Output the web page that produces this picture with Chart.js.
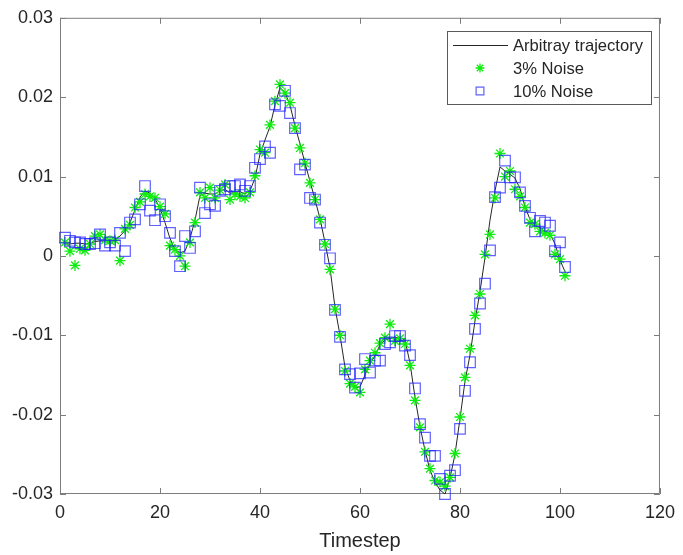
<!DOCTYPE html>
<html>
<head>
<meta charset="utf-8">
<script src="https://cdn.jsdelivr.net/npm/chart.js@4.4.1/dist/chart.umd.min.js"></script>
<style>
  html, body { margin: 0; padding: 0; background: #fff; }
  #wrap { width: 683px; height: 555px; }
</style>
</head>
<body>
<div id="wrap"><canvas id="traj-chart" width="683" height="555"></canvas></div>
<script>
// Timestep index (x values)
const timesteps = [
  1, 2, 3, 4, 5, 6, 7, 8, 9, 10, 11, 12, 13, 14, 15, 16, 17, 18, 19, 20,
  21, 22, 23, 24, 25, 26, 27, 28, 29, 30, 31, 32, 33, 34, 35, 36, 37, 38, 39, 40,
  41, 42, 43, 44, 45, 46, 47, 48, 49, 50, 51, 52, 53, 54, 55, 56, 57, 58, 59, 60,
  61, 62, 63, 64, 65, 66, 67, 68, 69, 70, 71, 72, 73, 74, 75, 76, 77, 78, 79, 80,
  81, 82, 83, 84, 85, 86, 87, 88, 89, 90, 91, 92, 93, 94, 95, 96, 97, 98, 99, 100,
  101
];

// Black line - the clean trajectory
const trajectory = [
  0.0015, 0.0015, 0.0016, 0.0016, 0.0015, 0.0016, 0.0018, 0.0019, 0.0018, 0.0017,
  0.0020, 0.0025, 0.0032, 0.0042, 0.0058, 0.0074, 0.0082, 0.0079, 0.0072, 0.0060,
  0.0042, 0.0022, 0.0008, 0.0004, 0.0006, 0.0022, 0.0045, 0.0076, 0.0079, 0.0078,
  0.0078, 0.0082, 0.0084, 0.0079, 0.0080, 0.0081, 0.0078, 0.0082, 0.0098, 0.0128,
  0.0146, 0.0163, 0.0190, 0.0212, 0.0206, 0.0190, 0.0164, 0.0141, 0.0117, 0.0094,
  0.0071, 0.0047, 0.0017, -0.0015, -0.0065, -0.0100, -0.0140, -0.0157, -0.0166, -0.0165,
  -0.0150, -0.0136, -0.0126, -0.0112, -0.0106, -0.0104, -0.0103, -0.0103, -0.0106, -0.0135,
  -0.0178, -0.0215, -0.0245, -0.0270, -0.0285, -0.0295, -0.0300, -0.0280, -0.0250, -0.0205,
  -0.0158, -0.0125, -0.0082, -0.0045, -0.0002, 0.0045, 0.0082, 0.0112, 0.0107, 0.0103,
  0.0098, 0.0085, 0.0062, 0.0046, 0.0039, 0.0035, 0.0031, 0.0028, 0.0015, -0.0005,
  -0.0020
];

// Green stars - 3% noise
const noise3 = [
  0.0017, 0.0006, -0.0012, 0.0009, 0.0007, 0.0015, 0.0025, 0.0027, 0.0020, 0.0019,
  0.0020, -0.0006, 0.0034, 0.0039, 0.0061, 0.0068, 0.0078, 0.0075, 0.0073, 0.0062,
  0.0053, 0.0013, 0.0008, 0.0000, -0.0013, 0.0017, 0.0042, 0.0080, 0.0073, 0.0086,
  0.0073, 0.0083, 0.0090, 0.0071, 0.0078, 0.0075, 0.0073, 0.0080, 0.0101, 0.0134,
  0.0130, 0.0165, 0.0195, 0.0216, 0.0205, 0.0193, 0.0161, 0.0136, 0.0117, 0.0092,
  0.0071, 0.0046, 0.0015, -0.0017, -0.0067, -0.0100, -0.0145, -0.0161, -0.0165, -0.0172,
  -0.0143, -0.0132, -0.0122, -0.0110, -0.0103, -0.0086, -0.0107, -0.0104, -0.0111, -0.0138,
  -0.0182, -0.0216, -0.0247, -0.0268, -0.0283, -0.0285, -0.0290, -0.0279, -0.0249, -0.0203,
  -0.0153, -0.0117, -0.0075, -0.0048, 0.0002, 0.0027, 0.0073, 0.0129, 0.0100, 0.0107,
  0.0084, 0.0075, 0.0061, 0.0042, 0.0040, 0.0031, 0.0029, 0.0026, 0.0002, -0.0004,
  -0.0025
];

// Blue squares - 10% noise
const noise10 = [
  0.0023, 0.0019, 0.0017, 0.0017, 0.0015, 0.0015, 0.0016, 0.0027, 0.0013, 0.0017,
  0.0013, 0.0029, 0.0006, 0.0042, 0.0046, 0.0065, 0.0088, 0.0057, 0.0045, 0.0065,
  0.0050, 0.0029, 0.0006, -0.0013, 0.0025, 0.0010, 0.0031, 0.0086, 0.0054, 0.0065,
  0.0063, 0.0082, 0.0084, 0.0088, 0.0088, 0.0090, 0.0082, 0.0088, 0.0111, 0.0122,
  0.0138, 0.0130, 0.0191, 0.0189, 0.0208, 0.0180, 0.0161, 0.0109, 0.0115, 0.0073,
  0.0071, 0.0042, 0.0014, -0.0003, -0.0068, -0.0102, -0.0143, -0.0149, -0.0166, -0.0148,
  -0.0130, -0.0147, -0.0132, -0.0132, -0.0111, -0.0109, -0.0101, -0.0101, -0.0113, -0.0125,
  -0.0167, -0.0212, -0.0229, -0.0252, -0.0252, -0.0281, -0.0300, -0.0277, -0.0270, -0.0218,
  -0.0170, -0.0134, -0.0092, -0.0060, -0.0035, 0.0007, 0.0074, 0.0086, 0.0120, 0.0099,
  0.0099, 0.0080, 0.0063, 0.0048, 0.0031, 0.0044, 0.0042, 0.0038, 0.0006, 0.0017,
  -0.0014
];

const seriesLabels = ['Arbitray trajectory', '3% Noise', '10% Noise'];

const AXIS_COLOR = '#7d7d7d';
const TEXT_COLOR = '#262626';
const FONT = '"Liberation Sans", Arial, sans-serif';

function toPoints(values) {
  return values.map((v, i) => ({ x: timesteps[i], y: v }));
}

// MATLAB style box with inward ticks on all four sides
const boxAxes = {
  id: 'boxAxes',
  beforeDatasetsDraw(chart) {
    const { ctx, chartArea } = chart;
    const { left, right, top, bottom } = chartArea;
    const xs = chart.scales.x, ys = chart.scales.y;
    const len = 6;
    ctx.save();
    ctx.strokeStyle = AXIS_COLOR;
    ctx.lineWidth = 1;
    ctx.beginPath();
    ctx.rect(left + 0.5, top + 0.5, right - left - 1, bottom - top - 1);
    xs.ticks.forEach(t => {
      const px = Math.round(xs.getPixelForValue(t.value)) + 0.5;
      ctx.moveTo(px, bottom); ctx.lineTo(px, bottom - len);
      ctx.moveTo(px, top); ctx.lineTo(px, top + len);
    });
    ys.ticks.forEach(t => {
      const py = Math.round(ys.getPixelForValue(t.value)) + 0.5;
      ctx.moveTo(left, py); ctx.lineTo(left + len, py);
      ctx.moveTo(right, py); ctx.lineTo(right - len, py);
    });
    ctx.stroke();
    ctx.restore();
  }
};

// Boxed legend in the top right corner
const boxLegend = {
  id: 'boxLegend',
  afterDatasetsDraw(chart) {
    const { ctx } = chart;
    const x0 = 447.5, y0 = 31.5, w = 204, h = 73;
    const rows = [45, 68, 91];
    ctx.save();
    ctx.fillStyle = '#fff';
    ctx.fillRect(x0, y0, w, h);
    ctx.strokeStyle = '#5a5a5a';
    ctx.lineWidth = 1;
    ctx.strokeRect(x0, y0, w, h);

    const ds = chart.data.datasets;
    // line sample
    ctx.strokeStyle = ds[0].borderColor;
    ctx.lineWidth = ds[0].borderWidth;
    ctx.beginPath();
    ctx.moveTo(453, rows[0] + 0.5);
    ctx.lineTo(508, rows[0] + 0.5);
    ctx.stroke();
    // marker samples
    [1, 2].forEach(i => {
      ctx.strokeStyle = ds[i].borderColor;
      ctx.fillStyle = 'rgba(0,0,0,0)';
      ctx.lineWidth = ds[i].borderWidth;
      Chart.helpers.drawPoint(ctx, {
        pointStyle: ds[i].pointStyle,
        radius: i === 1 ? 4.5 : 5.5,
        rotation: 0,
        borderWidth: ds[i].borderWidth
      }, 480, rows[i]);
    });

    ctx.fillStyle = TEXT_COLOR;
    ctx.font = '16.6px ' + FONT;
    ctx.textBaseline = 'middle';
    ctx.textAlign = 'left';
    seriesLabels.forEach((lab, i) => ctx.fillText(lab, 513, rows[i] + 1));
    ctx.restore();
  }
};

function renderTrajectoryChart() {
  const ctx = document.getElementById('traj-chart').getContext('2d');
  new Chart(ctx, {
    type: 'scatter',
    data: {
      datasets: [{
        label: seriesLabels[0],
        type: 'line',
        data: toPoints(trajectory),
        borderColor: '#262626',
        borderWidth: 1,
        pointRadius: 0,
        tension: 0,
        fill: false,
        clip: false,
        order: 3
      }, {
        label: seriesLabels[1],
        data: toPoints(noise3),
        pointStyle: 'star',
        pointRadius: 5.5,
        borderColor: '#0fec0f',
        backgroundColor: 'rgba(0,0,0,0)',
        borderWidth: 1.3,
        clip: false,
        order: 2
      }, {
        label: seriesLabels[2],
        data: toPoints(noise10),
        pointStyle: 'rect',
        pointRadius: 7.5,
        borderColor: 'rgba(30, 30, 255, 0.7)',
        backgroundColor: 'rgba(0,0,0,0)',
        borderWidth: 1.2,
        clip: false,
        order: 1
      }]
    },
    options: {
      responsive: false,
      animation: false,
      events: [],
      layout: { padding: { top: 17, right: 19, left: 0, bottom: 0 } },
      plugins: {
        legend: { display: false },
        tooltip: { enabled: false }
      },
      scales: {
        x: {
          type: 'linear',
          min: 0,
          max: 120,
          afterFit: s => { s.height = 61; },
          grid: { display: false, drawTicks: false },
          border: { display: false },
          ticks: {
            stepSize: 20,
            padding: 8,
            color: TEXT_COLOR,
            font: { family: FONT, size: 18 }
          },
          title: {
            display: true,
            text: 'Timestep',
            color: TEXT_COLOR,
            font: { family: FONT, size: 20 },
            padding: { top: 0, bottom: 2 }
          }
        },
        y: {
          min: -0.03,
          max: 0.03,
          afterFit: s => { s.width = 60; },
          grid: { display: false, drawTicks: false },
          border: { display: false },
          ticks: {
            stepSize: 0.01,
            padding: 7,
            color: TEXT_COLOR,
            font: { family: FONT, size: 18 },
            callback: v => {
              const r = Math.round(v * 100) / 100;
              return r === 0 ? '0' : r.toFixed(2);
            }
          }
        }
      }
    },
    plugins: [boxAxes, boxLegend]
  });
}

renderTrajectoryChart();
</script>
</body>
</html>
